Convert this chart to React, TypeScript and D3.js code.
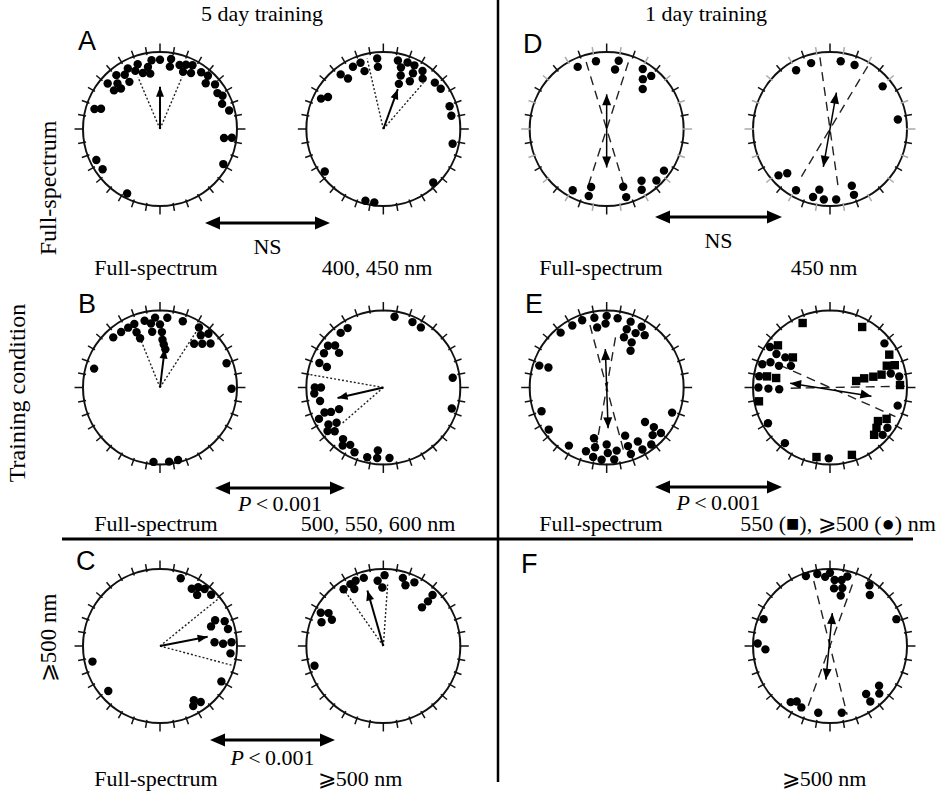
import React from "react";
import * as d3 from "d3";

const W = 949;
const H = 794;

// dots: [compass angle in degrees (clockwise from top), distance from centre as a fraction of the radius]
const dotsA1 = [[-49, 0.9], [-50, 0.78], [-43, 0.81], [-44, 0.73], [-39, 0.9], [-33, 0.84], [-33, 0.73], [-28, 0.89], [-23, 0.82], [-19, 0.89], [-17, 0.76], [-11, 0.82], [-10, 0.73], [-7, 0.9], [0, 0.9], [9, 0.82], [9, 0.92], [17, 0.87], [22, 0.8], [22, 0.9], [29, 0.83], [27, 0.93], [36, 0.91], [45, 0.84], [42, 0.93], [51, 0.92], [58, 0.88], [62, 0.92], [68, 0.87], [75, 0.93], [98, 0.84], [97, 0.94], [119, 0.94], [-73, 0.89], [-71, 0.81], [244, 0.92], [235, 0.91], [207, 0.94]];
const dotsA2 = [[-64, 0.9], [-60, 0.83], [234, 0.94], [-38, 0.9], [-35, 0.8], [-26, 0.9], [-19, 0.91], [-18, 0.79], [-5, 0.92], [-5, 0.81], [12, 0.91], [16, 0.83], [20, 0.92], [26, 0.92], [18, 0.73], [28, 0.82], [29, 0.71], [34, 0.91], [38, 0.83], [19, 0.62], [48, 0.9], [55, 0.91], [71, 0.91], [79, 0.9], [102, 0.92], [137, 0.95], [194, 0.96], [187, 0.96]];
const dotsD1 = [[-25, 0.89], [-9, 0.89], [10, 0.9], [8, 0.78], [31, 0.91], [40, 0.9], [36, 0.8], [42, 0.7], [209, 0.91], [195, 0.78], [195, 0.9], [164, 0.78], [164, 0.92], [146, 0.81], [150, 0.91], [136, 0.93], [126, 0.92]];
const dotsD2 = [[-30, 0.88], [-16, 0.89], [9, 0.89], [21, 0.89], [51, 0.88], [82, 0.89], [228, 0.9], [224, 0.8], [209, 0.91], [194, 0.91], [190, 0.8], [185, 0.92], [175, 0.92], [159, 0.79], [160, 0.91]];
const dotsB1 = [[-74, 0.89], [-43, 0.89], [-35, 0.88], [-28, 0.88], [-22, 0.89], [-23, 0.78], [-22, 0.69], [-13, 0.89], [-8, 0.84], [-4, 0.91], [0, 0.82], [6, 0.91], [-8, 0.73], [2, 0.72], [3, 0.62], [5, 0.56], [8, 0.5], [19, 0.91], [33, 0.93], [38, 0.86], [42, 0.94], [38, 0.72], [44, 0.79], [49, 0.87], [70, 0.92], [91, 0.93], [185, 0.97], [173, 0.97], [166, 0.97]];
const dotsB2 = [[9, 0.93], [24, 0.93], [32, 0.92], [-31, 0.9], [-38, 0.9], [-53, 0.9], [-49, 0.83], [-52, 0.73], [-60, 0.89], [-69, 0.89], [-70, 0.78], [-90, 0.89], [-90, 0.81], [265, 0.9], [258, 0.84], [244, 0.64], [245, 0.75], [247, 0.83], [244, 0.93], [236, 0.86], [233, 0.76], [232, 0.92], [228, 0.85], [218, 0.85], [215, 0.92], [210, 0.86], [204, 0.92], [193, 0.93], [185, 0.82], [185, 0.92], [175, 0.92], [82, 0.91], [107, 0.93]];
const dotsE1 = [[-40, 0.93], [-29, 0.92], [-20, 0.93], [-10, 0.92], [-9, 0.79], [0, 0.93], [-1, 0.83], [9, 0.91], [20, 0.91], [19, 0.8], [28, 0.8], [30, 0.91], [36, 0.84], [19, 0.69], [29, 0.67], [33, 0.57], [-72, 0.92], [-71, 0.8], [250, 0.9], [234, 0.93], [213, 0.9], [194, 0.68], [191, 0.79], [198, 0.87], [191, 0.92], [184, 0.94], [180, 0.74], [179, 0.85], [174, 0.94], [171, 0.83], [159, 0.67], [160, 0.81], [160, 0.92], [150, 0.81], [150, 0.93], [142, 0.94], [132, 0.67], [130, 0.8], [136, 0.86], [130, 0.92], [111, 0.91]];
const squaresE2 = [[-23, 0.91], [28, 0.89], [-51, 0.87], [-51, 0.62], [-80, 0.83], [-80, 0.71], [259, 0.94], [61, 0.88], [69, 0.79], [71, 0.89], [76, 0.35], [75, 0.46], [76, 0.58], [76, 0.69], [88, 0.91], [125, 0.76], [131, 0.8], [137, 0.84], [119, 0.84], [191, 0.92], [162, 0.92]];
const dotsE2 = [[-56, 0.94], [-58, 0.82], [-56, 0.7], [-71, 0.93], [-67, 0.84], [-67, 0.72], [-61, 0.58], [-81, 0.93], [270, 0.93], [269, 0.8], [268, 0.66], [51, 0.91], [77, 0.81], [81, 0.91], [105, 0.91], [125, 0.91], [132, 0.92], [240, 0.93], [219, 0.93], [181, 0.92]];
const dotsC1 = [[17, 0.92], [29, 0.85], [33, 0.91], [38, 0.94], [36, 0.82], [45, 0.94], [65, 0.79], [69, 0.9], [69, 0.71], [76, 0.91], [86, 0.71], [88, 0.82], [87, 0.93], [96, 0.92], [120, 0.92], [257, 0.9], [229, 0.89], [148, 0.83], [144, 0.9], [151, 0.89]];
const dotsC2 = [[-35, 0.9], [-28, 0.91], [-23, 0.92], [-27, 0.83], [-16, 0.92], [-5, 0.85], [1, 0.92], [-1, 0.76], [16, 0.92], [20, 0.84], [26, 0.92], [45, 0.71], [45, 0.82], [44, 0.92], [-62, 0.92], [-59, 0.83], [-69, 0.86], [-63, 0.75], [254, 0.93]];
const dotsF = [[-19, 0.96], [-10, 0.95], [-4, 0.9], [0, 0.95], [4, 0.86], [10, 0.87], [14, 0.93], [4, 0.75], [12, 0.77], [12, 0.67], [33, 0.94], [38, 0.84], [68, 0.93], [-68, 0.93], [-88, 0.94], [267, 0.84], [215, 0.89], [211, 0.84], [205, 0.88], [190, 0.88], [170, 0.88], [143, 0.78], [144, 0.89], [129, 0.82], [134, 0.89]];

// mean vectors [angle, length] with dotted confidence limits
const meanA1 = [0, 0.55];
const ciA1 = [[-23, 0.73], [23, 0.73]];
const meanA2 = [20, 0.55];
const ciA2 = [[-13, 0.94], [41, 0.79]];
const meanB1 = [7, 0.51];
const ciB1 = [[-22, 0.66], [33, 0.86]];
const meanB2 = [257, 0.61];
const ciB2 = [[280, 0.97], [229, 0.7]];
const meanC1 = [79, 0.63];
const ciC1 = [[51, 0.99], [105, 0.98]];
const meanC2 = [-16, 0.75];
const ciC2 = [[-35, 0.88], [4, 0.8]];

// axial means: both arrow tips [angle, length]; dashed limits [angle, reach forward, reach backward]
const axisD1 = [[0, 0.45], [180, 0.5]];
const limitsD1 = [[-17, 0.91, 0.82], [18, 0.91, 0.82]];
const axisD2 = [[10, 0.48], [190, 0.5]];
const limitsD2 = [[-8, 0.94, 0.75], [31, 0.95, 0.72]];
const axisE1 = [[-2, 0.5], [178, 0.53]];
const limitsE1 = [[-15, 0.84, 0.89], [10, 0.66, 0.9]];
const axisE2 = [[276, 0.52], [102, 0.55]];
const limitsE2 = [[294, 0.72, 0.93], [89, 0.97, 0.51]];
const axisF = [[4, 0.43], [187, 0.44]];
const limitsF = [[-14, 0.87, 0.92], [20, 0.85, 0.89]];

const headings = ["5 day training", "1 day training"];
const panelLetters = ["A", "B", "C", "D", "E", "F"];
const sideLabels = ["Training condition", "Full-spectrum", "⩾500 nm"];
const tests = ["NS", "NS", "P", "P", "P"];
const circleLabels = [
  ["Full-spectrum", "400, 450 nm", "Full-spectrum", "450 nm"],
  ["Full-spectrum", "500, 550, 600 nm", "Full-spectrum", "550 (■), ⩾500 (●) nm"],
  ["Full-spectrum", "⩾500 nm", "", "⩾500 nm"],
];

const colX = d3.scaleLinear().domain([0, 3]).range([160, 830]);
const rowY = d3.scaleLinear().domain([0, 2]).range([129, 646]);
const rad = d3.scaleLinear().domain([0, 1]).range([0, 77]);
const tickAngles = d3.range(0, 360, 10);

const SERIF = "'Liberation Serif', 'Times New Roman', serif";
const SANS = "'Liberation Sans', Arial, sans-serif";

const plots = [
  { col: 0, row: 0, dots: dotsA1, mean: meanA1, ci: ciA1 },
  { col: 1, row: 0, dots: dotsA2, mean: meanA2, ci: ciA2 },
  { col: 2, row: 0, dots: dotsD1, axis: axisD1, limits: limitsD1, grey: true },
  { col: 3, row: 0, dots: dotsD2, axis: axisD2, limits: limitsD2, grey: true },
  { col: 0, row: 1, dots: dotsB1, mean: meanB1, ci: ciB1 },
  { col: 1, row: 1, dots: dotsB2, mean: meanB2, ci: ciB2 },
  { col: 2, row: 1, dots: dotsE1, axis: axisE1, limits: limitsE1 },
  { col: 3, row: 1, dots: dotsE2, squares: squaresE2, axis: axisE2, limits: limitsE2 },
  { col: 0, row: 2, dots: dotsC1, mean: meanC1, ci: ciC1 },
  { col: 1, row: 2, dots: dotsC2, mean: meanC2, ci: ciC2 },
  { col: 3, row: 2, dots: dotsF, axis: axisF, limits: limitsF },
];

// layout of the comparison arrows (between the two circles of a row)
const compare = [
  { x1: 205, x2: 330, y: 223, ty: 254 },
  { x1: 655, x2: 782, y: 217, ty: 248 },
  { x1: 215, x2: 345, y: 488, ty: 511 },
  { x1: 655, x2: 782, y: 487, ty: 510 },
  { x1: 210, x2: 335, y: 740, ty: 765 },
];
const labelX = [[156, 377, 601, 824], [156, 378, 601, 838], [156, 360, 601, 824]];
const labelY = [275, 531, 786];
const letterPos = [[78, 50], [78, 313], [76, 570], [523, 53], [525, 313], [521, 573]];

function pt(cx: number, cy: number, a: number, f: number) {
  const t = (a * Math.PI) / 180;
  return [cx + rad(f) * Math.sin(t), cy - rad(f) * Math.cos(t)];
}

function head(x: number, y: number, a: number, len: number, hw: number) {
  const t = (a * Math.PI) / 180;
  const ux = Math.sin(t), uy = -Math.cos(t);
  const bx = x - ux * len, by = y - uy * len;
  const nx = Math.cos(t), ny = Math.sin(t);
  return `${x},${y} ${bx + nx * hw},${by + ny * hw} ${bx - nx * hw},${by - ny * hw}`;
}

function CirclePlot({ p }: any) {
  const cx = colX(p.col);
  const cy = rowY(p.row);
  const r = rad(1);
  return (
    <g>
      <circle cx={cx} cy={cy} r={r} fill="none" stroke="#111" strokeWidth={2} />
      {tickAngles.map((a, i) => {
        const major = a % 90 === 0;
        const [x1, y1] = pt(cx, cy, a, major ? 0.99 : 0.975);
        const [x2, y2] = pt(cx, cy, a, major ? 1.11 : 1.08);
        const col = p.grey && i % 2 === 1 ? "#aaa" : "#111";
        return <line key={a} x1={x1} y1={y1} x2={x2} y2={y2} stroke={col} strokeWidth={1.5} />;
      })}
      {p.ci &&
        p.ci.map(([a, f]: number[], i: number) => {
          const [x, y] = pt(cx, cy, a, f);
          return <line key={"ci" + i} x1={cx} y1={cy} x2={x} y2={y} stroke="#222" strokeWidth={1.4} strokeDasharray="2,2" />;
        })}
      {p.limits &&
        p.limits.map(([a, f1, f2]: number[], i: number) => {
          const [x1, y1] = pt(cx, cy, a, f1);
          const [x2, y2] = pt(cx, cy, a + 180, f2);
          return <line key={"lim" + i} x1={x1} y1={y1} x2={x2} y2={y2} stroke="#222" strokeWidth={1.4} strokeDasharray="9,6" />;
        })}
      {p.dots.map(([a, f]: number[], i: number) => {
        const [x, y] = pt(cx, cy, a, f);
        return <circle key={"d" + i} cx={x} cy={y} r={4.2} fill="#000" />;
      })}
      {p.squares &&
        p.squares.map(([a, f]: number[], i: number) => {
          const [x, y] = pt(cx, cy, a, f);
          return <rect key={"s" + i} x={x - 4.2} y={y - 4.2} width={8.4} height={8.4} fill="#000" />;
        })}
      {p.mean &&
        (() => {
          const [a, f] = p.mean;
          const [x, y] = pt(cx, cy, a, f);
          return (
            <g>
              <line x1={cx} y1={cy} x2={x} y2={y} stroke="#000" strokeWidth={2} />
              <polygon points={head(x, y, a, 10, 4)} fill="#000" />
            </g>
          );
        })()}
      {p.axis &&
        (() => {
          const [[a1, f1], [a2, f2]] = p.axis;
          const [x1, y1] = pt(cx, cy, a1, f1);
          const [x2, y2] = pt(cx, cy, a2, f2);
          return (
            <g>
              <line x1={x1} y1={y1} x2={x2} y2={y2} stroke="#000" strokeWidth={1.5} />
              <polygon points={head(x1, y1, a1, 11, 4.5)} fill="#000" />
              <polygon points={head(x2, y2, a2, 11, 4.5)} fill="#000" />
            </g>
          );
        })()}
    </g>
  );
}

export default function App() {
  return (
    <svg width={W} height={H} style={{ position: "absolute", left: 0, top: 0, background: "#fff" }}>
      <rect width={W} height={H} fill="#fff" />
      {/* dividers */}
      <line x1={498} y1={0} x2={498} y2={782} stroke="#000" strokeWidth={2.5} />
      <line x1={62} y1={539} x2={913} y2={539} stroke="#000" strokeWidth={3} />

      {headings.map((h, i) => (
        <text key={h} x={i === 0 ? 262 : 706} y={21} textAnchor="middle" fontFamily={SERIF} fontSize={22}>
          {h}
        </text>
      ))}
      {panelLetters.map((l, i) => (
        <text key={l} x={letterPos[i][0]} y={letterPos[i][1]} fontFamily={SANS} fontSize={27}>
          {l}
        </text>
      ))}

      <text transform="translate(25,393) rotate(-90)" textAnchor="middle" fontFamily={SERIF} fontSize={24}>
        {sideLabels[0]}
      </text>
      <text transform="translate(56,188) rotate(-90)" textAnchor="middle" fontFamily={SERIF} fontSize={24}>
        {sideLabels[1]}
      </text>
      <text transform="translate(56,638) rotate(-90)" textAnchor="middle" fontFamily={SERIF} fontSize={23}>
        {sideLabels[2]}
      </text>

      {plots.map((p, i) => (
        <CirclePlot key={i} p={p} />
      ))}

      {compare.map((c, i) => (
        <g key={"cmp" + i}>
          <line x1={c.x1 + 8} y1={c.y} x2={c.x2 - 8} y2={c.y} stroke="#000" strokeWidth={3} />
          <polygon points={head(c.x1, c.y, 270, 15, 6.5)} fill="#000" />
          <polygon points={head(c.x2, c.y, 90, 15, 6.5)} fill="#000" />
          <text x={(c.x1 + c.x2) / 2} y={c.ty} textAnchor="middle" fontFamily={SERIF} fontSize={22}>
            {tests[i] === "NS" ? (
              "NS"
            ) : (
              <>
                <tspan fontStyle="italic">P</tspan>
                <tspan>{"\u2009<\u20090.001"}</tspan>
              </>
            )}
          </text>
        </g>
      ))}

      {circleLabels.map((row, ri) =>
        row.map((lab, ci) =>
          lab ? (
            <text key={`${ri}-${ci}`} x={labelX[ri][ci]} y={labelY[ri]} textAnchor="middle" fontFamily={SERIF} fontSize={22}>
              {lab}
            </text>
          ) : null
        )
      )}
    </svg>
  );
}
